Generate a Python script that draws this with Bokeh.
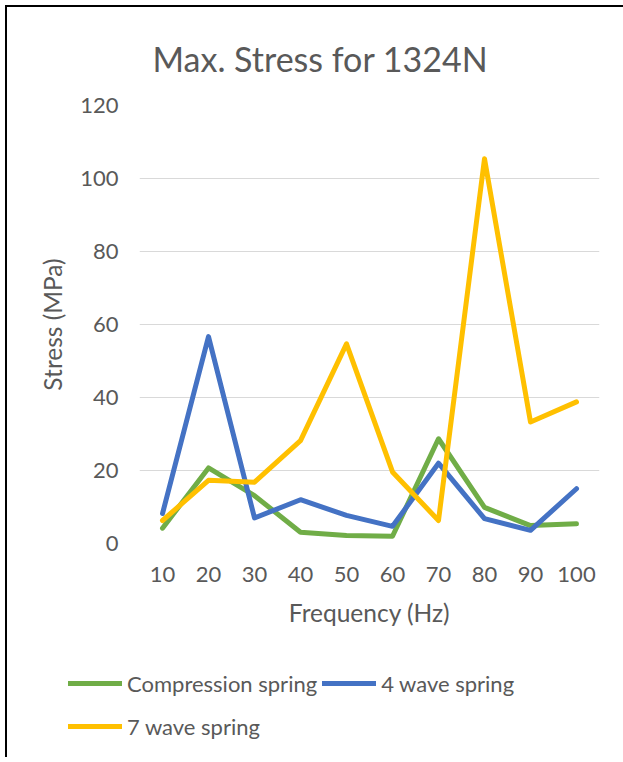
from bokeh.plotting import figure
from bokeh.layouts import column
from bokeh.models import FactorRange, Range1d, Legend, LegendItem, FixedTicker, Title
from bokeh.embed import file_html
from bokeh.resources import INLINE

frequencies = ["10", "20", "30", "40", "50", "60", "70", "80", "90", "100"]
compression = [4.2, 20.7, 13.1, 3.1, 2.2, 2.0, 28.7, 9.9, 4.9, 5.4]
wave4 = [8.2, 56.7, 7.0, 12.0, 7.7, 4.7, 22.0, 6.8, 3.6, 15.0]
wave7 = [6.3, 17.3, 16.8, 28.2, 54.7, 19.6, 6.3, 105.4, 33.3, 38.8]
series_names = ["Compression spring", "4 wave spring", "7 wave spring"]
y_ticks = [0, 20, 40, 60, 80, 100, 120]

FONT = "Lato"
TXT = "#595959"
colors = ["#70AD47", "#4472C4", "#FFC000"]
series = [compression, wave4, wave7]

p = figure(width=616, height=633, x_range=FactorRange(*frequencies, range_padding=0),
           y_range=Range1d(0, 120), output_backend="svg", toolbar_location=None,
           min_border_left=132, min_border_right=24, min_border_top=98, min_border_bottom=97)
p.frame_align = False
p.outline_line_color = None

t = Title(text="Max. Stress for 1324N", align="left", vertical_align="top",
          text_font=FONT, text_font_size="34px",
          text_color=TXT, text_font_style="normal", standoff=50, offset=13)
p.add_layout(t, "above")

p.xgrid.grid_line_color = None
p.ygrid.grid_line_color = "#d9d9d9"
p.ygrid.grid_line_width = 1

p.yaxis.ticker = FixedTicker(ticks=y_ticks)
for ax in (p.xaxis[0], p.yaxis[0]):
    ax.axis_line_color = None
    ax.major_tick_line_color = None
    ax.minor_tick_line_color = None
    ax.major_tick_out = 0
    ax.major_label_text_font = FONT
    ax.major_label_text_font_size = "22px"
    ax.major_label_text_color = TXT
    ax.axis_label_text_font = FONT
    ax.axis_label_text_font_size = "24.5px"
    ax.axis_label_text_color = TXT
    ax.axis_label_text_font_style = "normal"
p.yaxis.axis_label = "Stress (MPa)"
p.xaxis.axis_label = "Frequency (Hz)"
p.yaxis.major_label_standoff = 21
p.yaxis.axis_label_standoff = 10
p.xaxis.major_label_standoff = 23
p.xaxis.axis_label_standoff = 13

for vals, c in zip(series, colors):
    p.line(frequencies, vals, line_color=c, line_width=5, line_join="round", line_cap="round")

# legend strip below the chart (proxy lines sit outside its visible range)
q = figure(width=616, height=117, x_range=FactorRange(*frequencies), y_range=Range1d(-2, -1),
           output_backend="svg", toolbar_location=None, x_axis_type=None, y_axis_type=None,
           min_border=0)
q.frame_align = False
q.outline_line_color = None
q.xgrid.grid_line_color = None
q.ygrid.grid_line_color = None
proxies = [q.line(frequencies, vals, line_color=c, line_width=5, line_cap="round")
           for vals, c in zip(series, colors)]
legend = Legend(items=[LegendItem(label=n, renderers=[r]) for n, r in zip(series_names, proxies)],
                location=(61, 12), orientation="horizontal", ncols=2,
                label_text_font=FONT, label_text_font_size="22px", label_text_color=TXT,
                glyph_width=54, glyph_height=38, label_standoff=5, spacing=5, padding=0, margin=0,
                border_line_color=None, background_fill_alpha=0)
q.add_layout(legend, "center")

layout = column(p, q, spacing=0)
layout.styles = {"border-left": "2px solid black", "border-top": "2px solid black",
                 "margin-left": "5px", "margin-top": "5px",
                 "box-sizing": "content-box", "overflow": "hidden"}
open("out.html", "w").write(file_html(layout, INLINE))
